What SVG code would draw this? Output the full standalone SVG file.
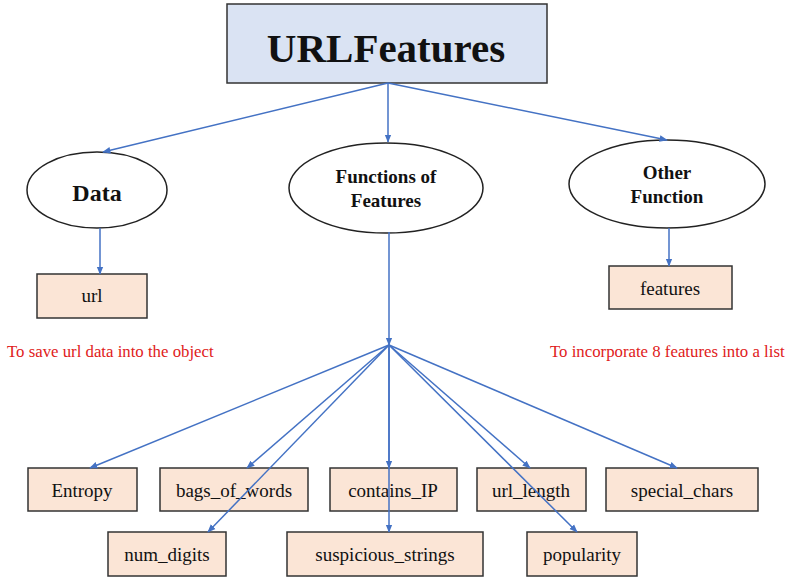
<svg xmlns="http://www.w3.org/2000/svg" width="800" height="588" viewBox="0 0 800 588">
<defs>
<marker id="ah" viewBox="0 0 10 10" refX="9" refY="5" markerWidth="5.5" markerHeight="5.5" orient="auto" markerUnits="strokeWidth">
<path d="M0,1 L10,5 L0,9 Z" fill="#4472c4"/>
</marker>
</defs>
<style>
.box{fill:#fbe5d6;stroke:#333;stroke-width:1.5}
.ell{fill:#fff;stroke:#222;stroke-width:1.5}
text{font-family:'Liberation Serif','Times New Roman',serif}
.t{font-size:19px;fill:#111;text-anchor:middle}
.b{font-weight:bold}
.red{font-size:16.8px;fill:#e02020}
.c line{stroke:#4472c4;stroke-width:1.5;marker-end:url(#ah)}
</style>
<rect width="800" height="588" fill="#fff"/>
<g id="urlfeatures">
<rect x="227" y="4" width="320" height="79" fill="#dae3f3" stroke="#333" stroke-width="1.5"/>
<text class="t b" x="386" y="62" style="font-size:41px">URLFeatures</text>
</g>
<g id="data">
<ellipse class="ell" cx="97" cy="190" rx="70" ry="38"/>
<text class="t b" x="97" y="201" style="font-size:24px">Data</text>
</g>
<g id="functions">
<ellipse class="ell" cx="386" cy="188" rx="97" ry="45"/>
<text class="t b" x="386" y="183" style="font-size:19px">Functions of</text>
<text class="t b" x="386" y="207" style="font-size:19px">Features</text>
</g>
<g id="other">
<ellipse class="ell" cx="667" cy="184" rx="98" ry="44"/>
<text class="t b" x="667" y="179" style="font-size:19px">Other</text>
<text class="t b" x="667" y="203" style="font-size:19px">Function</text>
</g>
<g id="url">
<rect class="box" x="37" y="274" width="110" height="44"/>
<text class="t" x="92" y="302">url</text>
</g>
<text class="red" x="7" y="357">To save url data into the object</text>
<g id="features">
<rect class="box" x="609" y="266" width="123" height="43"/>
<text class="t" x="670" y="295">features</text>
</g>
<text class="red" x="550" y="357">To incorporate 8 features into a list</text>
<g id="entropy">
<rect class="box" x="28" y="468" width="109" height="43"/>
<text class="t" x="82" y="497">Entropy</text>
</g>
<g id="bags_of_words">
<rect class="box" x="160" y="468" width="148" height="43"/>
<text class="t" x="234" y="497">bags_of_words</text>
</g>
<g id="contains_ip">
<rect class="box" x="330" y="468" width="127" height="43"/>
<text class="t" x="393" y="497">contains_IP</text>
</g>
<g id="url_length">
<rect class="box" x="477" y="468" width="109" height="43"/>
<text class="t" x="531" y="497">url_length</text>
</g>
<g id="special_chars">
<rect class="box" x="606" y="468" width="152" height="43"/>
<text class="t" x="682" y="497">special_chars</text>
</g>
<g id="num_digits">
<rect class="box" x="108" y="532" width="118" height="44"/>
<text class="t" x="167" y="561">num_digits</text>
</g>
<g id="suspicious_strings">
<rect class="box" x="287" y="532" width="196" height="44"/>
<text class="t" x="385" y="561">suspicious_strings</text>
</g>
<g id="popularity">
<rect class="box" x="527" y="532" width="110" height="44"/>
<text class="t" x="582" y="561">popularity</text>
</g>
<g class="c" id="connectors">
<line x1="388" y1="83" x2="103" y2="152"/>
<line x1="388" y1="83" x2="388" y2="142"/>
<line x1="388" y1="83" x2="667" y2="140"/>
<line x1="100" y1="228" x2="100" y2="274"/>
<line x1="669" y1="228" x2="669" y2="266"/>
<line x1="389" y1="232" x2="389" y2="345"/>
<line x1="389" y1="345" x2="90" y2="468"/>
<line x1="389" y1="345" x2="247" y2="468"/>
<line x1="389" y1="345" x2="208" y2="532"/>
<line x1="389" y1="345" x2="389" y2="468"/>
<line x1="389" y1="345" x2="389" y2="532"/>
<line x1="389" y1="345" x2="530" y2="468"/>
<line x1="389" y1="345" x2="577" y2="532"/>
<line x1="389" y1="345" x2="677" y2="468"/>
</g>
</svg>
